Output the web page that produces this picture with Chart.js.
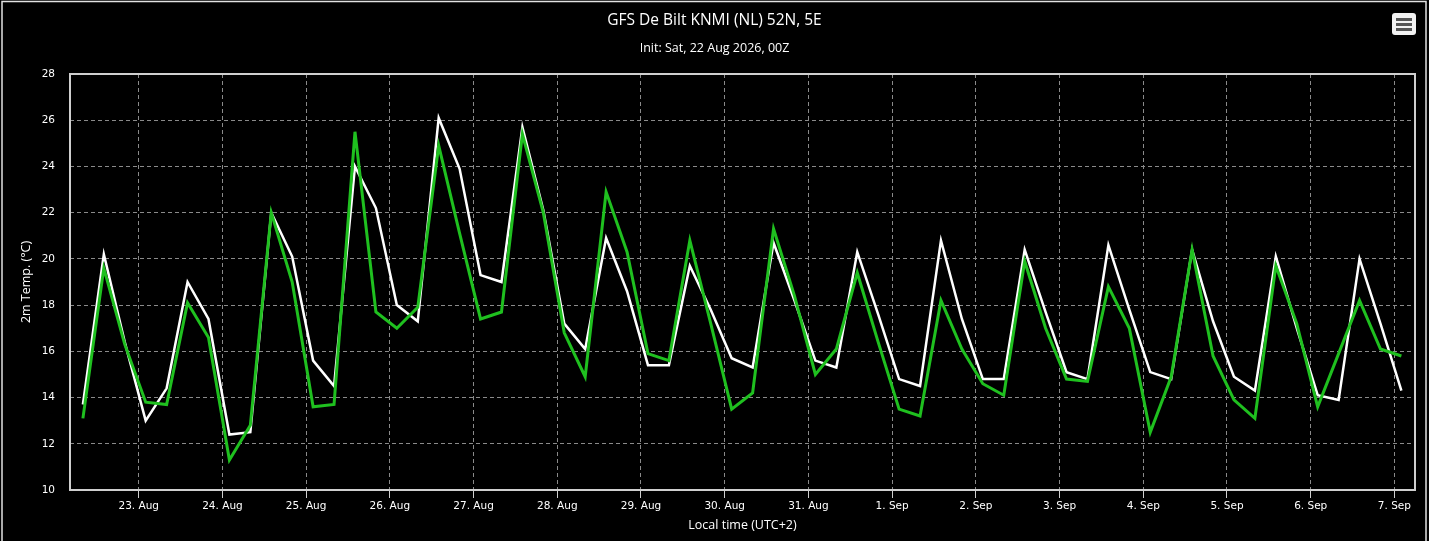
<!DOCTYPE html>
<html>
<head>
<meta charset="utf-8">
<script src="https://cdn.jsdelivr.net/npm/chart.js@4/dist/chart.umd.min.js"></script>
<style>
  html, body { margin: 0; padding: 0; background: #000; }
  #wrap { position: relative; width: 1429px; height: 541px; }
</style>
</head>
<body>
<div id="wrap"><canvas id="chart"></canvas></div>
<script>
// GFS run, 6-hourly steps, first value 22 Aug 08:00 local (hours counted from 22 Aug 00:00)
const firstHour = 8;
const stepHours = 6;

const whiteTemps = [
  13.7, 20.2, 16.4, 13.0, 14.4, 19.0, 17.4, 12.4,
  12.5, 22.0, 20.1, 15.6, 14.5, 24.0, 22.2, 18.0,
  17.3, 26.1, 23.9, 19.3, 19.0, 25.7, 22.1, 17.2,
  16.1, 20.9, 18.6, 15.4, 15.4, 19.7, 17.8, 15.7,
  15.3, 20.7, 18.2, 15.6, 15.3, 20.3, 17.6, 14.8,
  14.5, 20.8, 17.4, 14.8, 14.8, 20.4, 17.7, 15.1,
  14.8, 20.6, 17.8, 15.1, 14.8, 20.4, 17.3, 14.9,
  14.3, 20.1, 17.0, 14.1, 13.9, 20.0, 17.2, 14.3
];

const greenTemps = [
  13.1, 19.6, 16.3, 13.8, 13.7, 18.1, 16.6, 11.3,
  12.8, 22.0, 19.0, 13.6, 13.7, 25.5, 17.7, 17.0,
  17.9, 24.9, 21.1, 17.4, 17.7, 25.4, 22.0, 16.8,
  14.9, 22.9, 20.3, 15.9, 15.6, 20.8, 17.2, 13.5,
  14.2, 21.3, 18.4, 15.0, 16.1, 19.4, 16.4, 13.5,
  13.2, 18.2, 16.1, 14.6, 14.1, 19.9, 17.0, 14.8,
  14.7, 18.8, 17.0, 12.5, 14.9, 20.4, 15.8, 13.9,
  13.1, 19.7, 17.2, 13.6, 15.9, 18.2, 16.1, 15.8
];

const dayTickHours = [24, 48, 72, 96, 120, 144, 168, 192, 216, 240, 264, 288, 312, 336, 360, 384];
const dayTickLabels = ['23. Aug', '24. Aug', '25. Aug', '26. Aug', '27. Aug', '28. Aug', '29. Aug',
  '30. Aug', '31. Aug', '1. Sep', '2. Sep', '3. Sep', '4. Sep', '5. Sep', '6. Sep', '7. Sep'];

const yTicks = [10, 12, 14, 16, 18, 20, 22, 24, 26, 28];

const chartTitle = 'GFS De Bilt KNMI (NL) 52N, 5E';
const chartSubtitle = 'Init: Sat, 22 Aug 2026, 00Z';

const toPoints = vals => vals.map((v, i) => ({ x: firstHour + i * stepHours, y: v }));

// title, frame and the menu button
const decor = {
  id: 'decor',
  beforeDraw(chart) {
    const ctx = chart.ctx;
    ctx.save();
    ctx.fillStyle = '#000';
    ctx.fillRect(0, 0, chart.width, chart.height);
    ctx.restore();
  },
  afterDraw(chart) {
    const ctx = chart.ctx;
    const a = chart.chartArea;
    ctx.save();
    ctx.strokeStyle = '#cfcfcf';
    ctx.lineWidth = 2;
    ctx.strokeRect(a.left, a.top, a.right - a.left, a.bottom - a.top);

    ctx.strokeStyle = '#e2e2e2';
    ctx.lineWidth = 1.5;
    ctx.strokeRect(2, 1.5, chart.width - 5, chart.height + 4);

    ctx.fillStyle = '#ffffff';
    ctx.textAlign = 'center';
    ctx.textBaseline = 'middle';
    ctx.font = '15.5px "Open Sans"';
    ctx.fillText(chartTitle, chart.width / 2, 21);
    ctx.font = '12.5px "Open Sans"';
    ctx.fillText(chartSubtitle, chart.width / 2, 48);

    // hamburger button
    ctx.fillStyle = '#f2f2f2';
    ctx.beginPath();
    ctx.roundRect(1392, 13, 24, 22, 3);
    ctx.fill();
    ctx.fillStyle = '#555';
    [18, 23, 28].forEach(y => ctx.fillRect(1396, y, 16, 3));
    ctx.restore();
  }
};

new Chart(document.getElementById('chart'), {
  type: 'line',
  data: {
    datasets: [
      {
        label: 'GFS',
        data: toPoints(greenTemps),
        borderColor: '#1fc01f',
        borderWidth: 3,
        pointRadius: 0,
        tension: 0,
        order: 0
      },
      {
        label: 'KNMI',
        data: toPoints(whiteTemps),
        borderColor: '#ffffff',
        borderWidth: 2.5,
        pointRadius: 0,
        tension: 0,
        order: 1
      }
    ]
  },
  options: {
    responsive: true,
    maintainAspectRatio: false,
    animation: false,
    devicePixelRatio: 1,
    layout: { padding: { top: 74, right: 14, left: 0, bottom: 0 } },
    plugins: {
      legend: { display: false },
      tooltip: { enabled: false }
    },
    scales: {
      x: {
        type: 'linear',
        min: 4.3,
        max: 389.9,
        afterFit(scale) { scale.height = 51; },
        afterBuildTicks(scale) { scale.ticks = dayTickHours.map(v => ({ value: v })); },
        ticks: {
          color: '#ffffff',
          font: { family: 'DejaVu Sans', size: 10.5 },
          padding: 2,
          maxRotation: 0,
          autoSkip: false,
          callback: v => dayTickLabels[dayTickHours.indexOf(v)]
        },
        grid: {
          color: '#8a8a8a',
          lineWidth: 1,
          drawTicks: true,
          tickLength: 8,
          tickColor: '#cfcfcf',
          tickBorderDash: []
        },
        border: { display: false, dash: [4, 3] },
        title: {
          display: true,
          text: 'Local time (UTC+2)',
          color: '#ffffff',
          font: { family: 'Open Sans', size: 12.5 },
          padding: { top: 0, bottom: 8.5 }
        }
      },
      y: {
        min: 10,
        max: 28,
        afterFit(scale) { scale.width = 70; },
        afterBuildTicks(scale) { scale.ticks = yTicks.map(v => ({ value: v })); },
        ticks: {
          color: '#ffffff',
          font: { family: 'DejaVu Sans', size: 10.5 },
          padding: 15
        },
        grid: {
          color: '#8a8a8a',
          lineWidth: 1,
          drawTicks: false
        },
        border: { display: false, dash: [4, 3] },
        title: {
          display: true,
          text: '2m Temp. (°C)',
          color: '#ffffff',
          font: { family: 'Open Sans', size: 12.5 },
          padding: { top: 18.5, bottom: 0 }
        }
      }
    }
  },
  plugins: [decor]
});
</script>
</body>
</html>
